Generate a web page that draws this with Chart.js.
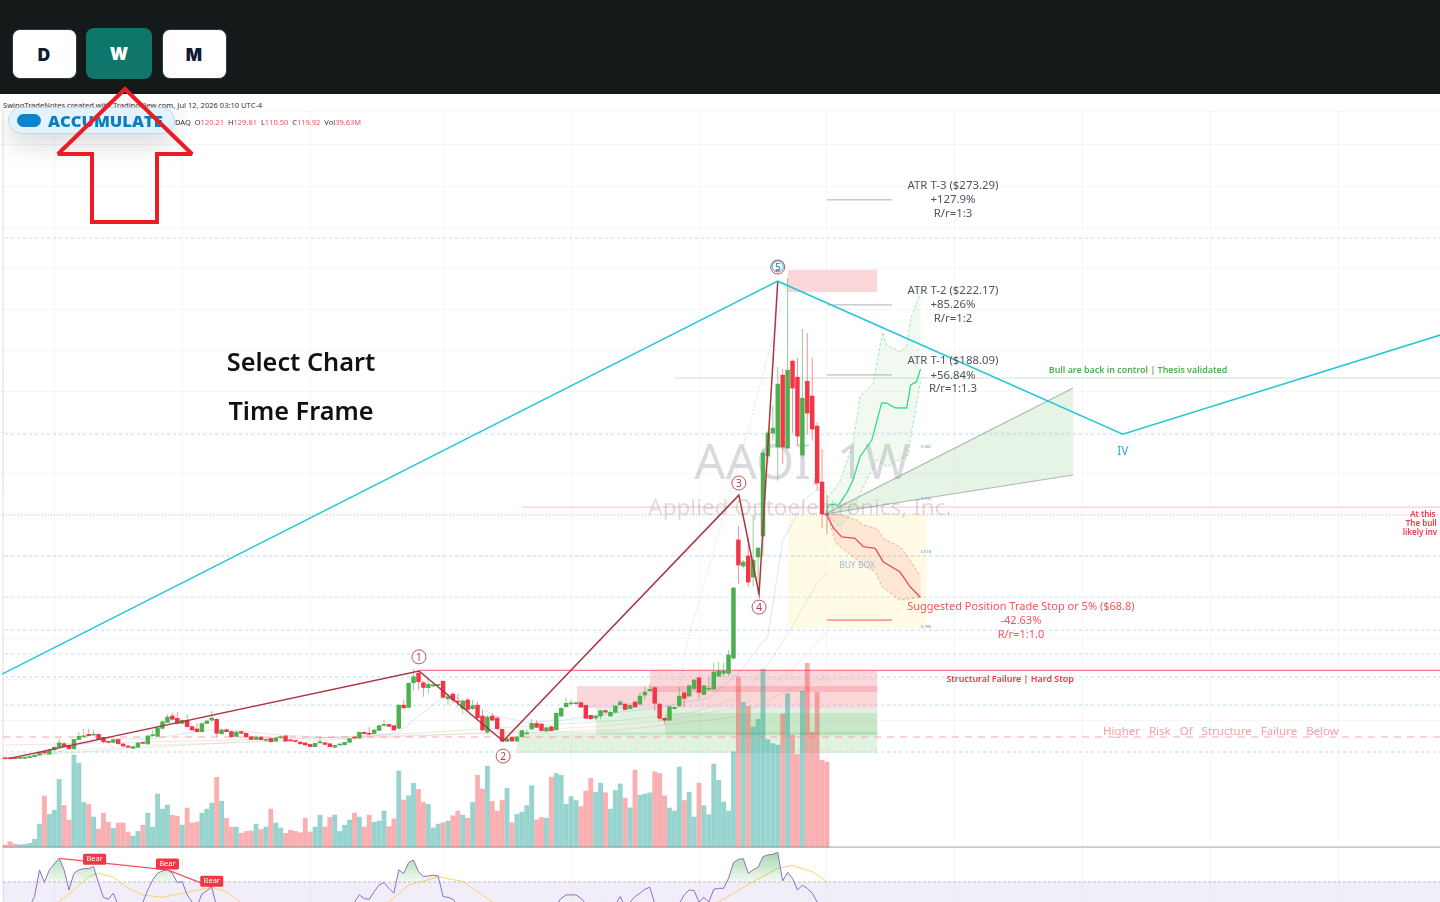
<!DOCTYPE html>
<html>
<head>
<meta charset="utf-8">
<title>AAOI 1W</title>
<script src="https://cdn.jsdelivr.net/npm/chart.js@4/dist/chart.umd.min.js"></script>
<style>
html, body { margin: 0; padding: 0; background: #fff; overflow: hidden; }
#page { position: relative; width: 1440px; height: 902px; overflow: hidden; font-family: "Noto Sans", sans-serif; }
#topbar { position: absolute; left: 0; top: 0; width: 1440px; height: 94px; background: #141a19; }
#strip { position: absolute; left: 0; top: 94px; width: 1440px; height: 17px; background: #fff; }
.tf { position: absolute; box-sizing: border-box; height: 50px; top: 28.5px; width: 65px; background: #fff; border: 1px solid #2c3a4a; border-radius: 8px; color: #111a33; font: 900 17px "Inter", sans-serif; text-align: center; line-height: 50px; }
#btnD { left: 11.5px; }
#btnW { left: 86px; width: 66px; top: 28px; height: 51px; background: #0f766c; border: none; color: #fff; line-height: 52px; }
#btnM { left: 161.5px; }
#chart { position: absolute; left: 0; top: 94px; }
#credit { position: absolute; left: 3px; top: 100px; font: 7.55px/10px "Noto Sans", sans-serif; color: #333; white-space: nowrap; }
#legend { position: absolute; left: 175px; top: 117px; font: 7.5px/10px "Noto Sans", sans-serif; color: #333; white-space: pre; }
#legend b { font-weight: 400; color: #f7525f; }
#pill { position: absolute; left: 8px; top: 107px; width: 167px; height: 27px; box-sizing: border-box; background: #e3f2fd; border: 1px solid #bfd7ea; border-radius: 14px; box-shadow: 0 10px 26px rgba(0,0,0,.16); }
#pill i { position: absolute; left: 8px; top: 6px; width: 24px; height: 13px; border-radius: 7px; background: #0a84cc; }
#pill span { position: absolute; left: 39px; top: 0; font: 800 16.5px/25px "Open Sans", sans-serif; color: #0a7ec2; }
.cap { position: absolute; width: 300px; left: 151px; text-align: center; font: 600 25.3px/32px "Noto Sans", sans-serif; color: #111; }
#arrow { position: absolute; left: 0; top: 0; pointer-events: none; }
</style>
</head>
<body>
<div id="page">
  <canvas id="chart" width="1440" height="808"></canvas>
  <div id="topbar"></div>
  <div id="strip"></div>
  <div class="tf" id="btnD">D</div>
  <div class="tf" id="btnW">W</div>
  <div class="tf" id="btnM">M</div>
  <div id="credit">SwingTradeNotes created with TradingView.com, Jul 12, 2026 03:10 UTC-4</div>
  <div id="legend">DAQ  O<b>120.21</b>  H<b>129.81</b>  L<b>110.50</b>  C<b>119.92</b>  Vol<b>39.63M</b></div>
  <div id="pill"><i></i><span>ACCUMULATE</span></div>
  <div class="cap" style="top:345px">Select Chart</div>
  <div class="cap" style="top:394px">Time Frame</div>
  <svg id="arrow" width="220" height="240"><polygon points="125,89 192,154 157,154 157,222 92,222 92,154 58,154" fill="none" stroke="#ed1c24" stroke-width="4" stroke-linejoin="miter" stroke-miterlimit="2"/></svg>
</div>

<script>
// weekly candles
const opens = [
  1.65,1.5,1.5,1.4,1.5,1.8,2.3,3.1,4.9,3.6,
  5.6,6.9,8.6,7.8,6.2,10.7,12,13.2,12.8,13.2,
  11.7,9.6,9.3,10.7,8.5,7.5,6.4,6.9,9.1,8.5,
  12.5,12.2,16.1,19,22.1,21,18.5,20,16.9,15.8,
  14.5,18.5,20.1,20.5,13.5,15.4,14.5,12.2,14.5,13.7,
  12,10.7,11.9,10.3,11.2,9.9,11.5,12.4,10.3,10,
  9.4,9,8.3,7.2,9,9.1,8.6,6.9,8,8.1,
  9.3,11.7,11.4,14.2,13.7,13.5,15.1,17.5,18,17.4,
  16.1,27.4,26.3,38.3,42.9,38.3,35.9,36.7,37,39,
  30.5,32.8,29.2,25.8,29.9,25.7,27.4,22.1,14.3,22.1,
  21.1,15.6,9.8,11.7,9.9,12,13.4,15.8,18.5,18.2,
  14.8,16.9,15.4,22.1,26.6,28,28.1,28.6,27.3,22.4,
  21.1,22.1,24.7,22.1,23.9,27.6,27.9,25.7,28.9,27.9,
  32.3,34.4,35.9,27.9,21,20.1,25.7,27,33.4,31.8,
  35.5,40.7,32.6,35.1,35.2,41.5,42.9,42.9,50.3,107.8,
  95.1,100,89.7,99.5,109.7,148.6,159.8,153,188,152.5,
  194.8,187,149.1,185,177.8,163.2,136,120.21
];
const highs = [
  1.9,1.8,1.7,1.9,2.1,2.6,3.5,4.9,5.3,6,
  7.5,11.2,9.5,8.5,11,14.5,15.8,15.9,15.6,13.6,
  12,10.2,11,11.1,8.8,7.9,7.6,9.4,9.5,12.9,
  15.2,17,19.9,23,23.7,24.1,20.5,22.9,17.5,18.5,
  18.9,20.1,24.5,21,15.9,16,15,14.8,15,14,
  12.3,12.8,12.2,11,11.9,11.9,12.5,12.7,10.6,10.2,
  9.7,9.2,8.6,9.1,11.7,9.4,8.9,8.1,8.7,9.6,
  11.5,12,14.6,14.5,16.6,15.8,17.8,20.1,18.3,17.7,
  27.8,30,38.5,45,44.5,39,40.9,38,37.8,39.6,
  33,33.8,33,30.2,31,30,29,25,22.3,23.5,
  22,16,11.5,12,12.2,15.7,15.6,20.6,20,18.7,
  16.9,17.2,23.9,26.5,31,30,29,29,27.7,22.9,
  22.6,25,25.3,24.3,27.5,29.9,28.2,28.5,29.2,33.5,
  36.5,37.5,36.3,28.3,21.5,27,26.8,36.4,33.8,37.5,
  40.2,41.2,37.3,41.2,48,48.5,48,54.2,84.8,114.6,
  98,108.8,119.8,104.5,152,161,173.4,191.9,191,235.3,
  195.5,196.3,210.5,208.6,196.3,165,152,129.81
];
const lows = [
  1.1,1.1,1.2,1.2,1.3,1.5,2,2.9,3.8,3.4,
  5.3,6.7,6.9,5.8,5.5,10.3,11.8,12.3,12.5,10.5,
  8.8,8.9,9,8.3,7.2,6.6,6.2,6.6,8.4,8.2,
  12.2,11.9,15.7,18.7,20,18,18.1,16.5,15,14.2,
  14.2,18.2,19,12,13.1,14.2,11.7,11.9,13.4,11.6,
  10.4,10.4,10.3,9.5,9.3,9.6,11.2,9.6,9.8,9.4,
  8.3,7.8,7,7,8.7,8,6.9,6.6,7.7,7.9,
  9.1,11.1,11.1,13.2,12.8,13.2,14.8,17.2,16.8,14.9,
  15.8,25.5,26,34.5,34.7,31.5,33.1,36.1,36.5,30.8,
  27.5,28.5,26.5,23,24.5,25,20.8,14.7,13.5,19.5,
  15.3,9.5,9.5,9.6,9.6,11.7,13.1,15.4,16.3,14.6,
  14.5,14.7,15.1,21.8,26.3,27.7,27.8,26.2,20.6,20.3,
  20,20.5,23.7,21.8,23.5,27.3,25,25.3,26.1,27.5,
  30,34,24.5,19.6,18.5,19.8,25.3,26.6,26.5,31.5,
  34.8,31,32.2,34.7,34.9,41,41,41.5,49.5,86.4,
  94,85,85,81.4,99.9,145,156,136.6,144.8,152,
  160,154,148,158.8,156,132,113.5,110.5
];
const closes = [
  1.33,1.3,1.4,1.6,1.8,2.3,3,4.4,4.1,5.6,
  6.9,9,7.2,6.2,10.7,12.2,12.4,12.5,13.3,10.9,
  9.6,9.3,10.6,8.6,7.5,6.9,7.2,9,8.8,12.4,
  13,16.3,19.3,21.6,20.5,18.5,20,16.9,15.3,14.5,
  18.4,19.7,21.1,13.7,15.3,14.5,12,14.3,13.7,11.9,
  10.7,11.9,10.6,10.5,9.6,11.5,12,9.9,10,9.7,
  8.6,8,7.2,8.8,9.6,8.3,7.2,7.8,8.3,9.3,
  11.1,11.4,14.2,13.5,13.2,15.3,17.4,17.9,17.1,15.3,
  27.4,26.1,38,41.2,38.8,36,37.5,37.3,37.3,31.2,
  31.5,29.9,28.9,29.4,25.3,27.1,21.3,15.3,21.6,20.1,
  15.9,9.9,11.1,9.9,11.9,15,13.7,18.5,16.6,15,
  16.4,15,23.4,25.8,28.3,28.3,28.4,26.5,21,20.8,
  22.1,24.7,24,23.9,27,28.9,25.3,27.3,26.5,31.8,
  33.8,35.1,28.3,21,20.1,26.6,26.3,31.8,30.7,36.8,
  39.6,33.6,36.8,35.4,43.5,44,44,51.8,84.4,95.6,
  97,87.3,98,103.8,150.1,159.8,162.2,183.6,153,190.4,
  181.7,158.3,176.8,169.5,161.7,135.5,120.4,119.92
];
// volume in millions
const volumes = [
  0.9,2.5,1.4,1.1,1.2,1.7,3.7,10.7,23.8,15.2,
  17.1,31.5,19.4,12.6,42.9,39.1,20.8,19.9,14,8.4,
  15.8,11.6,8.7,11.2,11.2,7,5.1,7.3,10.2,15.8,
  9.3,24.7,17.7,19.6,14.8,14.4,10.2,18.2,11.2,11.6,
  15.8,17.7,20.5,32.5,21.4,13.4,9.3,9.3,6.4,7.3,
  7.5,10.7,8.2,9.3,17.7,11.2,8.9,6.4,7.8,7.3,
  6.7,13.5,7,9.3,14.9,9.3,13.8,14.9,7.3,10.2,
  12.6,15.8,14,9.3,14.9,11.6,12.1,16.8,9.6,13.2,
  35.4,21.9,23.9,29.7,26.9,20.8,19.9,8.9,10.7,11.3,
  12.1,14.6,16.8,14.9,13.4,20.8,33.5,27,37.7,21.3,
  16.8,21.7,27.3,11.3,15.2,16.3,19.3,28.6,12.7,13.8,
  13.5,32.6,34.3,33.5,19.9,23.5,21.7,18.8,26.1,32.1,
  25.6,29.8,25.3,17.7,26.4,29.4,22.8,18.3,35.9,24.2,
  24.7,25.3,35.1,34.3,23.9,18.2,16.8,37.3,21.7,25.6,
  14,29.8,19.3,15.1,38.7,31.1,21,16.8,44.4,79.3,
  67.5,65.6,56,59.5,83,50.1,48.2,47.5,62.1,71.5,
  52.2,43.3,72.6,85.6,53.5,72,40.5,39.63
];
const rsiValues = [
  30,30,30,30,30,30,37.8,60,49.7,60,
  65,69.7,60,43.3,57.2,60,61.1,61.1,62.8,48.9,
  37.2,35.6,40.6,30.8,30,29,28,30,33,43.3,
  51.7,57.2,59.2,60,57.2,49.4,50.3,39.2,33.3,29.4,
  40,42.8,45.6,29.4,28,30,29,31,28,27,
  26,27,26,28,27,29,30,27,28,27,
  26,25,24,26,29,28,26,27,28,29,
  31,33.3,39.2,36.1,35.6,41.9,47.5,49.4,44.7,40.6,
  60,57.2,66.1,68.3,58.6,54.4,55,55.6,55,37.8,
  37.2,35.6,29.4,31,30,30,28,25,29,28,
  27,24,25,25,26,28,27,30,29,28,
  29,28,31,36.4,39.2,39.2,39.2,36.4,32,30,
  30,31,33,32,31,37.8,29.4,33.3,37.8,40.6,
  43.9,45.6,32.2,28,27,30,30,32.2,39.2,43.3,
  42.8,33.3,37.2,33.3,43.9,44.7,44.7,53,66.1,68.9,
  69.4,57.2,60,62.2,71.1,72.5,73,74.7,50.8,58,
  53,43.3,47.2,44.7,40.6,33.3,29.4,26.7
];
const rsiMaBars = [5,11,14,17,19,22,25,28,32,36,42,45,48,60,78,82,84,88,93,99,120,145,152,157,160,164,167];
const rsiMaValues = [25,33.3,43.3,54.4,57.2,53.9,44.7,39.2,37.2,40.6,45.6,42,32.2,24,33.3,47.5,49.4,54.4,50.3,33.3,24,33.3,50.3,61.4,63.6,58.6,50.3];
const bearBars = [11,33,42];
const bearValues = [69.7,60,45.6];
const bearLabelBars = [18.2,33,42];
const bearLabelValues = [68.9,65,50.6];

// moving averages
const maBlueBars = [0,10,15,20,30,40,45,55,70,80,84,90,100,106,113,125,132,143,149,155,158,163,165,167];
const maBlueValues = [1.5,4,8,11,11,15,15.6,13,11,14,22,33,22,19,20,24,26,31,42.9,61,107.7,128.6,132,131];
const maGreenBars = [0,30,60,85,105,125,140,150,155,160,165,167];
const maGreenValues = [2,7,11,14,17,20,24,32,47,66,87,92];
const maPaleBars = [0,30,60,90,120,135,150,160,167];
const maPaleValues = [3,8,10,13,17,20,27,45,63];
const maPinkBars = [0,40,84,125,149,159,167];
const maPinkValues = [8,10,12.8,15.3,21.8,34.7,41];

// wave counts and projected paths
const redWaveBars = [1,84.1,101.2,149.1,153.2,157];
const redWavePrices = [1.5,44,9.9,129.6,81.5,233.7];
const cyanWaveBars = [-0.6,157,227.1,291.6];
const cyanWavePrices = [42.5,233.7,159.3,207.5];
const trendBars = [137.1,138.7,149.9,159.1];
const trendPrices = [38.2,59.2,151.5,234.2];
const bullBars = [166.9,167.3,168.6,169.2,171,172.3,173.7,176.1,178.1,179.1,180.8,183.2,184,185.2,186];
const bullPrices = [120.9,124.8,125.1,124.3,130.6,136.9,148.3,156.4,174.4,174.5,172.1,172,183.2,184.8,190.9];
const bullHighBars = [166.8,167.3,169.6,172.3,173.7,176.4,178.3,179.1,181.8,183.2,184,186];
const bullHighPrices = [120.9,128.8,136.1,154.9,177.5,184,208.8,202.6,199.4,201.8,215.6,227.9];
const bullLowBars = [166.8,169.6,171.3,177.1,179.1,183.5,183.9,186];
const bullLowPrices = [120.9,114.2,118.4,146.7,143.4,149.1,156.4,184.8];
const bearPathBars = [166.9,168.3,170,172.7,174.4,176.8,178.4,181.8,183.9,186];
const bearPathPrices = [120.4,113.6,109.3,108.6,104.5,103.7,97.2,92.3,85,79.9];
const bearHighBars = [166.9,170,173.1,174.4,177.1,178.4,181.8,183.5,186];
const bearHighPrices = [120.4,119.9,117.5,115,113.4,108.6,104.5,99.6,89.9];
const bearLowBars = [166.9,168.9,174.4,176.8,178.2,181.8,186];
const bearLowPrices = [120.4,106.1,95.6,92.3,85,78.5,79.9];
const fanBars = [166.6,217,217];
const fanPrices = [120.4,181.7,139.4];

// price levels
const fibPrices = [254.7,159.3,99.9,80,63.9,52.3,41.1,27.4,4.6];
const atrPrices = [273.29,222.17,188.09];
const stopPrice = 68.8;
const failurePrice = 44.3;
const bullLinePrice = 186.6;
const midLinePrice = 123.8;
const lastClose = 119.92;
const riskPrice = 11.9;
const paneTopPrice = 316.5;

// zones: left bar, right bar, top price, bottom price
const redZoneLeft = [159.1,131,116.2];
const redZoneRight = [177.2,177.2,177.2];
const redZoneTop = [239.2,44,36.7];
const redZoneBottom = [228.4,33.8,26];
const greenZoneLeft = [104,120.1,134.1];
const greenZoneRight = [177.2,177.2,177.2];
const greenZoneTop = [14.3,26,23.6];
const greenZoneBottom = [4.1,12.8,12.8];
const buyZone = [159.1,187.3,119.9,64.9];

const gridBars = [10,36,62,89,115,141,167,193,219,245,271];

// text on the chart: text, bar, price
const greyNotes = [
  ['ATR T-3 ($273.29)',192.6,280.5],['+127.9%',192.6,273.7],['R/r=1:3',192.6,266.9],
  ['ATR T-2 ($222.17)',192.6,229.4],['+85.26%',192.6,222.6],['R/r=1:2',192.6,215.8],
  ['ATR T-1 ($188.09)',192.6,195.3],['+56.84%',192.6,188],['R/r=1:1.3',192.6,181.7]
];
const stopNotes = [
  ['Suggested Position Trade Stop or 5% ($68.8)',206.4,75.6],['-42.63%',206.4,68.8],['R/r=1:1.0',206.4,62]
];
const cutNotes = [['At this',285.5,120.4],['The bull',284.6,116],['likely inv',284,111.6]];
const fibLabels = [['0.382',187.1,153.5],['0.500',187.1,128.2],['0.618',187.1,102.4],['0.786',187.1,65.9]];
const waveLabels = [['1',84.1,50.9],['2',101.2,2.6],['3',149.1,135.5],['4',153.2,75.1],['5',157,240.6]];
const cyanLabels = [['5',157,240.9]];

const green = '#4caf50';
const red = '#f23645';
const pairs = (xs, ys) => xs.map((x, k) => ({ x: x, y: ys[k] }));
const bars = closes.map((c, i) => i);

function pathLine(xs, ys, color, width, dash, order) {
    return {
        type: 'line', data: pairs(xs, ys), borderColor: color, borderWidth: width,
        borderDash: dash || [], pointRadius: 0, tension: 0, fill: false, order: order === undefined ? 1 : order
    };
}
function levelLine(price, from, to, color, width, dash, axis) {
    const ds = pathLine([from, to], [price, price], color, width, dash, 6);
    if (axis) ds.yAxisID = axis;
    return ds;
}

const canvas = document.getElementById('chart');
const ctx = canvas.getContext('2d');
const rsiFill = ctx.createLinearGradient(0, 755, 0, 790);
rsiFill.addColorStop(0, 'rgba(76,175,80,.55)');
rsiFill.addColorStop(1, 'rgba(76,175,80,.03)');

function drawBox(c, x, left, right, top, bottom, yScale, color) {
    c.fillStyle = color;
    const xa = x.getPixelForValue(left), xb = x.getPixelForValue(right);
    const ya = yScale.getPixelForValue(top), yb = yScale.getPixelForValue(bottom);
    c.fillRect(xa, ya, xb - xa, yb - ya);
}
function drawPoly(c, x, y, xs, ys, fillColor) {
    c.beginPath();
    xs.forEach((v, k) => {
        if (k === 0) c.moveTo(x.getPixelForValue(v), y.getPixelForValue(ys[k]));
        else c.lineTo(x.getPixelForValue(v), y.getPixelForValue(ys[k]));
    });
    c.closePath();
    c.fillStyle = fillColor;
    c.fill();
}
function drawNotes(c, x, y, notes, font, color, align) {
    c.font = font;
    c.fillStyle = color;
    c.textAlign = align || 'center';
    c.textBaseline = 'middle';
    notes.forEach(n => c.fillText(n[0], x.getPixelForValue(n[1]), y.getPixelForValue(n[2]) + 1));
}

const overlay = {
    id: 'overlay',
    beforeDatasetsDraw(chart) {
        const c = chart.ctx, x = chart.scales.x, y = chart.scales.y, r = chart.scales.yRsi;
        c.save();
        drawNotes(c, x, y, [['AAOI, 1W',162,144.7]], '49px "Noto Sans"', 'rgba(120,123,134,.28)');
        drawNotes(c, x, y, [['Applied Optoelectronics, Inc.',161.5,123.3]], '22.5px "Noto Sans"', 'rgba(120,123,134,.26)');
        drawBox(c, x, leftEdge, x.max, 50, r.min, r, 'rgba(126,87,194,.1)');
        drawBox(c, x, buyZone[0], buyZone[1], buyZone[2], buyZone[3], y, 'rgba(255,235,120,.2)');
        redZoneLeft.forEach((l, k) => drawBox(c, x, l, redZoneRight[k], redZoneTop[k], redZoneBottom[k], y, 'rgba(242,54,69,.2)'));
        greenZoneLeft.forEach((l, k) => drawBox(c, x, l, greenZoneRight[k], greenZoneTop[k], greenZoneBottom[k], y, 'rgba(76,175,80,.17)'));
        drawPoly(c, x, y, fanBars, fanPrices, 'rgba(76,175,80,.14)');
        drawPoly(c, x, y, bullHighBars.concat(bullLowBars.slice().reverse()), bullHighPrices.concat(bullLowPrices.slice().reverse()), 'rgba(76,175,80,.08)');
        drawPoly(c, x, y, bearHighBars.concat(bearLowBars.slice().reverse()), bearHighPrices.concat(bearLowPrices.slice().reverse()), 'rgba(242,54,69,.1)');
        c.restore();
    },
    afterDatasetsDraw(chart) {
        const c = chart.ctx, x = chart.scales.x, y = chart.scales.y, r = chart.scales.yRsi;
        c.save();
        drawNotes(c, x, y, greyNotes, '11.4px "Noto Sans"', '#50535e');
        drawNotes(c, x, y, stopNotes, '11px "Noto Sans"', '#f7525f');
        drawNotes(c, x, y, [['Structural Failure | Hard Stop',204.2,40.6]], '600 8.9px "Noto Sans"', red);
        drawNotes(c, x, y, [['Bull are back in control | Thesis validated',230.2,190.9]], '600 8.9px "Noto Sans"', green);
        drawNotes(c, x, y, [['Higher   Risk   Of   Structure   Failure   Below',223.1,14.9]], '11.5px "Noto Sans"', '#f9a0a6', 'left');
        drawNotes(c, x, y, [['BUY BOX',173.1,95.6]], '8.5px "Noto Sans"', '#9db9ea');
        drawNotes(c, x, y, [['IV',227.1,151.5]], '12px "Noto Sans"', '#26b5c9');
        drawNotes(c, x, y, cutNotes, '600 8px "Noto Sans"', red, 'left');
        drawNotes(c, x, y, fibLabels, '4px "Noto Sans"', '#5b9cf6');
        waveLabels.forEach(w => {
            c.beginPath();
            c.arc(x.getPixelForValue(w[1]), y.getPixelForValue(w[2]), 7, 0, Math.PI * 2);
            c.fillStyle = '#fff';
            c.fill();
            c.strokeStyle = '#c0505a';
            c.lineWidth = 1;
            c.stroke();
        });
        drawNotes(c, x, y, waveLabels, '10px "Noto Sans"', '#b03c48');
        cyanLabels.forEach(w => {
            c.beginPath();
            c.arc(x.getPixelForValue(w[1]), y.getPixelForValue(w[2]), 5.5, 0, Math.PI * 2);
            c.strokeStyle = '#26a6c9';
            c.stroke();
        });
        drawNotes(c, x, y, cyanLabels, '9px "Noto Sans"', '#26a6c9');
        bearLabelBars.forEach((b, k) => {
            const px = x.getPixelForValue(b), py = r.getPixelForValue(bearLabelValues[k]);
            c.fillStyle = red;
            c.beginPath();
            c.roundRect(px - 11.5, py - 5.5, 23, 11, 1.5);
            c.fill();
            c.font = '7.5px "Noto Sans"';
            c.fillStyle = '#fff';
            c.textAlign = 'center';
            c.textBaseline = 'middle';
            c.fillText('Bear', px, py);
        });
        c.restore();
    }
};

const farLeft = -1.02, farRight = 291.55;
const leftEdge = -0.4;
const atrFrom = 167, atrTo = 180.2;

const datasets = [
    { type: 'bar', label: 'Volume', yAxisID: 'yVol', data: pairs(bars, volumes), barThickness: 4.2, grouped: false, order: 8,
      backgroundColor: bars.map(i => closes[i] >= opens[i] ? 'rgba(38,166,154,.48)' : 'rgba(244,67,70,.42)') },
    { type: 'bar', label: 'Wick', data: bars.map(i => ({ x: i, y: [lows[i], highs[i]] })), barThickness: 0.9, grouped: false, order: 3, inflateAmount: 0,
      backgroundColor: bars.map(i => closes[i] >= opens[i] ? 'rgba(76,175,80,.65)' : 'rgba(242,54,69,.6)') },
    { type: 'bar', label: 'Body', data: bars.map(i => ({ x: i, y: [opens[i], closes[i]] })), barThickness: 3.8, grouped: false, order: 2, minBarLength: 1,
      backgroundColor: bars.map(i => closes[i] >= opens[i] ? green : red) },

    pathLine(maBlueBars, maBlueValues, 'rgba(90,130,240,.22)', 1, null, 7),
    pathLine(maGreenBars, maGreenValues, 'rgba(150,190,130,.28)', 1, null, 7),
    pathLine(maPaleBars, maPaleValues, 'rgba(200,190,140,.28)', 1, null, 7),
    pathLine(maPinkBars, maPinkValues, 'rgba(240,130,130,.25)', 1, null, 7),
    pathLine(trendBars, trendPrices, 'rgba(90,150,240,.4)', 1, [1, 2], 7),

    pathLine(cyanWaveBars, cyanWavePrices, '#26c6da', 1.5),
    pathLine(redWaveBars, redWavePrices, '#ad3340', 1.5),
    pathLine(bullBars, bullPrices, '#2ee07f', 1.3),
    pathLine(bullHighBars, bullHighPrices, 'rgba(76,200,120,.6)', 0.8, [3, 2]),
    pathLine(bullLowBars, bullLowPrices, 'rgba(76,200,120,.6)', 0.8, [3, 2]),
    pathLine(bearPathBars, bearPathPrices, '#ef4b58', 1.3),
    pathLine(bearHighBars, bearHighPrices, 'rgba(242,90,100,.6)', 0.8, [3, 2]),
    pathLine(bearLowBars, bearLowPrices, 'rgba(242,90,100,.6)', 0.8, [3, 2]),
    pathLine(fanBars.slice(0, 2), fanPrices.slice(0, 2), 'rgba(120,123,134,.55)', 1.2),
    pathLine([fanBars[0], fanBars[2]], [fanPrices[0], fanPrices[2]], 'rgba(120,123,134,.55)', 1.2),

    levelLine(failurePrice, 84.1, farRight, 'rgba(242,54,69,.65)', 1.2),
    levelLine(bullLinePrice, 136, farRight, 'rgba(76,175,80,.3)', 1.2),
    levelLine(midLinePrice, 105, farRight, 'rgba(242,54,69,.25)', 1.3),
    levelLine(lastClose, leftEdge, farRight, 'rgba(242,54,69,.4)', 1, [1, 2]),
    levelLine(riskPrice, leftEdge, farRight, 'rgba(247,130,140,.7)', 1.2, [7, 6]),
    levelLine(stopPrice, atrFrom, atrTo, '#f7525f', 1),
    levelLine(paneTopPrice, leftEdge, farRight, 'rgba(42,46,57,.05)', 1),
    pathLine([leftEdge, leftEdge], [paneTopPrice, -68], 'rgba(42,46,57,.05)', 1, null, 6),
    levelLine(0, leftEdge, farRight, 'rgba(120,123,134,.7)', 1, null, 'yVol'),
    levelLine(50, leftEdge, farRight, 'rgba(120,123,134,.6)', 0.8, [3, 2], 'yRsi'),

    { type: 'line', yAxisID: 'yRsi', data: pairs(bars, rsiValues), borderColor: '#8a6fca', borderWidth: 1, pointRadius: 0, tension: 0, order: 1,
      fill: { target: { value: 50 }, above: rsiFill, below: 'rgba(0,0,0,0)' } },
    { type: 'line', yAxisID: 'yRsi', data: pairs(rsiMaBars, rsiMaValues), borderColor: 'rgba(250,205,80,.85)', borderWidth: 1, pointRadius: 0, tension: 0, fill: false, order: 1 },
    { type: 'line', yAxisID: 'yRsi', data: pairs(bearBars, bearValues), borderColor: '#f7525f', borderWidth: 1.3, pointRadius: 0, tension: 0, fill: false, order: 0 }
];
fibPrices.forEach((p, k) => datasets.push(levelLine(p, 0, farRight, k === 3 ? 'rgba(130,190,255,.35)' : 'rgba(130,190,255,.55)', 1, [3, 3])));
atrPrices.forEach(p => datasets.push(levelLine(p, atrFrom, atrTo, 'rgba(120,123,134,.6)', 1)));

const chart = new Chart(ctx, {
    data: { datasets: datasets },
    options: {
        responsive: false,
        animation: false,
        devicePixelRatio: 1,
        layout: { padding: 0 },
        plugins: { legend: { display: false }, tooltip: { enabled: false } },
        scales: {
            x: {
                type: 'linear', min: farLeft, max: farRight, offset: false,
                ticks: { display: false }, border: { display: false },
                grid: { color: 'rgba(42,46,57,.04)', drawTicks: false, offset: false },
                afterBuildTicks: axis => { axis.ticks = gridBars.map(v => ({ value: v })); }
            },
            y: {
                type: 'linear', min: -68.4, max: 324.8,
                ticks: { display: false, stepSize: 20 }, border: { display: false },
                grid: { drawTicks: false, color: c => (c.tick && c.tick.value > 0 && c.tick.value <= 300) ? 'rgba(42,46,57,.04)' : 'rgba(0,0,0,0)' }
            },
            yVol: { type: 'linear', display: false, min: -25.6, max: 351 },
            yRsi: { type: 'linear', display: false, min: 33.3, max: 706 }
        }
    },
    plugins: [overlay]
});
</script>
</body>
</html>
